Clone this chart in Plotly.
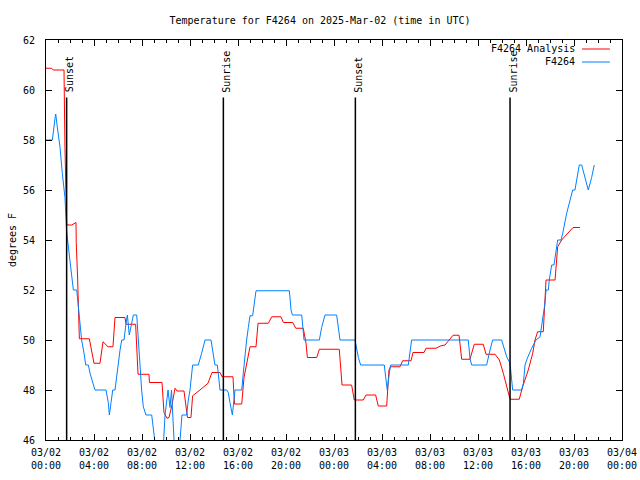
import pandas as pd
import plotly.graph_objects as go

BASE = "2025-03-02 00:00"

# Hours since 2025-03-02 00:00 UTC and temperatures (deg F)
analysis_hours = [0, 0.47, 0.61, 1.5, 1.58, 1.72, 1.79, 2.14, 2.5, 2.52, 2.64, 2.72, 2.78, 3.61, 4.0, 4.5,
                  4.75, 5.17, 5.58, 5.75, 6.58, 6.67, 7.47, 7.67, 8.58, 8.62, 9.5, 9.67, 9.83, 10.08, 10.25,
                  10.5, 10.75, 10.92, 11.5, 11.67, 11.79, 12.08, 12.22, 12.83, 13.5, 13.83, 14.5, 14.67,
                  15.58, 15.71, 16.31, 16.5, 16.75, 17.0, 17.5, 17.67, 18.53, 18.81, 19.58, 19.78, 20.56,
                  20.81, 21.44, 21.67, 21.78, 22.56, 22.78, 24.44, 24.67, 25.47, 25.69, 26.44, 26.67, 27.47,
                  27.69, 28.39, 28.58, 28.71, 29.5, 29.72, 30.42, 30.58, 31.5, 31.67, 32.5, 32.92, 33.25,
                  33.92, 34.42, 34.64, 35.33, 35.69, 36.44, 36.67, 37.42, 37.78, 38.11, 38.39, 38.67, 39.44,
                  39.72, 40.19, 40.56, 40.75, 40.97, 41.44, 41.58, 41.67, 42.42, 42.64, 42.97, 43.92, 44.5]
analysis_temp = [60.87, 60.87, 60.8, 60.8, 57.7, 54.67, 54.6, 54.6, 54.7, 53.9, 52.4, 50.8, 50.05, 50.05, 49.07, 49.07,
                 49.93, 49.73, 49.73, 50.9, 50.9, 50.63, 50.63, 48.63, 48.63, 48.3, 48.3, 48.3, 47.1, 46.87, 46.9,
                 47.4, 48.07, 47.96, 47.96, 47.3, 46.9, 46.9, 47.77, 48.0, 48.27, 48.7, 48.7, 48.53,
                 48.53, 47.44, 47.44, 48.5, 49.2, 49.73, 49.73, 50.67, 50.67, 50.93, 50.93, 50.7, 50.7,
                 50.47, 50.47, 49.87, 49.3, 49.3, 49.63, 49.63, 48.2, 48.2, 47.6, 47.6, 47.8, 47.8,
                 47.36, 47.36, 48.8, 48.93, 48.93, 49.17, 49.17, 49.5, 49.5, 49.67, 49.67, 49.77, 49.8,
                 50.19, 50.19, 49.23, 49.23, 49.83, 49.83, 49.43, 49.43, 49.2, 48.67, 48.13, 47.63, 47.63,
                 48.13, 48.8, 49.47, 50.0, 50.33, 50.33, 52.0, 52.4, 52.4, 53.73, 54.0, 54.5, 54.5]

obs_hours = [0, 0.53, 0.75, 0.81, 0.94, 1.17, 1.36, 1.58, 1.72, 1.86, 2.0, 2.19, 2.28, 2.56, 2.64, 2.78, 2.97,
             3.17, 3.31, 3.53, 3.67, 4.08, 5.0, 5.19, 5.28, 5.42, 5.56, 5.75, 5.94, 6.17, 6.31, 6.5, 6.67,
             6.78, 6.94, 7.14, 7.28, 7.56, 7.69, 7.83, 7.97, 8.11, 8.33, 8.81, 8.94, 9.08, 9.78, 9.92,
             10.17, 10.33, 10.46, 10.67, 10.83, 11.17, 11.33, 11.72, 11.86, 12.0, 12.22, 12.69, 12.97,
             13.25, 13.75, 13.94, 14.08, 14.28, 14.5, 15.06, 15.19, 15.33, 15.53, 15.75, 16.31, 16.44,
             16.58, 16.72, 16.86, 17.0, 17.22, 17.28, 17.5, 20.28, 20.42, 20.53, 21.31, 21.5, 22.78,
             22.97, 23.25, 24.22, 24.36, 24.5, 25.75, 25.89, 26.03, 26.22, 28.19, 28.31, 28.44, 28.61,
             28.72, 30.19, 30.33, 30.47, 35.19, 35.33, 35.47, 36.72, 37.0, 37.22, 37.97, 38.17, 38.39,
             38.67, 38.75, 38.89, 39.64, 39.78, 39.92, 40.11, 40.47, 40.83, 41.17, 41.31, 41.44, 41.58,
             41.67, 41.86, 41.94, 42.14, 42.33, 42.47, 42.64, 42.92, 43.06, 43.39, 43.61, 43.89, 44.08,
             44.28, 44.44, 44.64, 44.92, 45.19, 45.47, 45.69]
obs_temp = [58.0, 58.0, 58.87, 59.04, 58.53, 57.7, 56.67, 55.7, 54.33, 53.8, 53.2, 52.4, 52.0, 52.0, 51.6, 51.1, 50.0,
            49.47, 49.0, 49.0, 48.67, 48.0, 48.0, 47.5, 47.0, 47.5, 48.0, 48.0, 48.8, 49.6, 50.0, 50.0, 50.67,
            51.0, 50.2, 50.67, 51.0, 51.0, 50.0, 48.67, 48.0, 47.33, 47.0, 47.0, 46.4, 45.9, 45.8, 47.0,
            48.0, 47.3, 48.0, 46.0, 45.6, 46.0, 47.0, 47.0, 47.6, 48.0, 49.0, 49.0, 49.47,
            50.0, 50.0, 49.47, 49.0, 49.0, 48.0, 48.0, 47.9, 47.5, 47.0, 48.0, 48.0, 48.67,
            49.4, 50.0, 50.5, 50.97, 50.97, 51.2, 51.97, 51.97, 51.2, 51.0, 51.0, 50.0, 50.0,
            50.5, 51.0, 51.0, 50.5, 50.0, 50.0, 49.6, 49.3, 49.0, 49.0, 48.5, 48.0, 48.67,
            49.0, 49.0, 49.6, 50.0, 50.0, 49.27, 49.0, 49.0, 49.6, 50.0, 50.0, 49.67, 49.33,
            49.07, 48.53, 48.0, 48.0, 48.27, 49.0, 49.27, 49.67, 50.0, 50.13, 50.53, 51.0, 51.47,
            52.0, 52.0, 52.4, 53.0, 53.0, 53.47, 54.0, 54.0, 54.27, 55.07, 55.47, 56.0, 56.0,
            56.5, 57.0, 57.0, 56.5, 56.0, 56.5, 57.0]

sun_event_hours = [1.72, 14.78, 25.78, 38.67]
sun_event_labels = ["Sunset", "Sunrise", "Sunset", "Sunrise"]

tick_hours = list(range(0, 49, 4))
tick_labels = ["03/02<br>00:00", "03/02<br>04:00", "03/02<br>08:00", "03/02<br>12:00", "03/02<br>16:00",
               "03/02<br>20:00", "03/03<br>00:00", "03/03<br>04:00", "03/03<br>08:00", "03/03<br>12:00",
               "03/03<br>16:00", "03/03<br>20:00", "03/04<br>00:00"]
y_ticks = [46, 48, 50, 52, 54, 56, 58, 60, 62]

series_names = ["F4264 Analysis", "F4264"]
series_colors = ["#ff0000", "#0080ff"]

base = pd.Timestamp(BASE)
def to_time(h):
    return base + pd.to_timedelta(h, unit="h")

FONT = "DejaVu Sans Mono"

fig = go.Figure()
fig.add_trace(go.Scatter(x=to_time(pd.Series(analysis_hours)), y=analysis_temp, mode="lines",
                         name=series_names[0], line=dict(color=series_colors[0], width=1)))
fig.add_trace(go.Scatter(x=to_time(pd.Series(obs_hours)), y=obs_temp, mode="lines",
                         name=series_names[1], line=dict(color=series_colors[1], width=1)))

for h, lab in zip(sun_event_hours, sun_event_labels):
    t = to_time(h)
    fig.add_shape(type="line", xref="x", yref="y", x0=t, x1=t, y0=46, y1=59.7,
                  line=dict(color="black", width=1.5))
    fig.add_annotation(x=t, y=59.82, xref="x", yref="y", text=lab, textangle=-90,
                       showarrow=False, yanchor="bottom", xanchor="center", xshift=3,
                       font=dict(family=FONT, size=10, color="black"))

# legend drawn gnuplot-style: text right-aligned, sample line to its right
for i, (nm, col) in enumerate(zip(series_names, series_colors)):
    yp = 0.9775 - i * 0.0325
    fig.add_annotation(x=0.922, y=yp, xref="paper", yref="paper", text=nm, showarrow=False,
                       xanchor="right", yanchor="middle", font=dict(family=FONT, size=10, color="black"))
    fig.add_shape(type="line", xref="paper", yref="paper", x0=0.9306, x1=0.979, y0=yp, y1=yp,
                  line=dict(color=col, width=1))

fig.update_layout(
    width=640, height=480,
    margin=dict(l=46, r=18, t=40, b=40, autoexpand=False),
    paper_bgcolor="white", plot_bgcolor="white",
    showlegend=False,
    font=dict(family=FONT, size=10, color="black"),
    title=dict(text="Temperature for F4264 on 2025-Mar-02 (time in UTC)", x=0.5, xanchor="center",
               y=1 - 20 / 480, yanchor="middle", yref="container",
               font=dict(family=FONT, size=10, color="black")),
)
fig.update_xaxes(
    range=[to_time(0), to_time(48)], automargin=False,
    tickmode="array", tickvals=[to_time(h) for h in tick_hours], ticktext=tick_labels,
    ticks="inside", ticklen=6, tickcolor="black", tickwidth=1, ticklabelstandoff=3,
    showline=True, linecolor="black", linewidth=1, mirror="allticks",
    showgrid=False, zeroline=False,
    minor=dict(tickmode="linear", tick0=to_time(0), dtick=3600000, ticks="inside", ticklen=3,
               tickcolor="black", showgrid=False),
    tickfont=dict(family=FONT, size=10, color="black"),
)
fig.update_yaxes(
    range=[46, 62], tickmode="array", tickvals=y_ticks, automargin=False,
    ticks="inside", ticklen=6, tickcolor="black", tickwidth=1, ticklabelstandoff=8,
    showline=True, linecolor="black", linewidth=1, mirror="allticks",
    showgrid=False, zeroline=False,
    title=dict(text="degrees F", standoff=4, font=dict(family=FONT, size=10, color="black")),
    tickfont=dict(family=FONT, size=10, color="black"),
)

fig.write_html("out.html", config={"displayModeBar": False},
               post_script="document.body.style.margin='0';document.body.style.overflow='hidden';")
